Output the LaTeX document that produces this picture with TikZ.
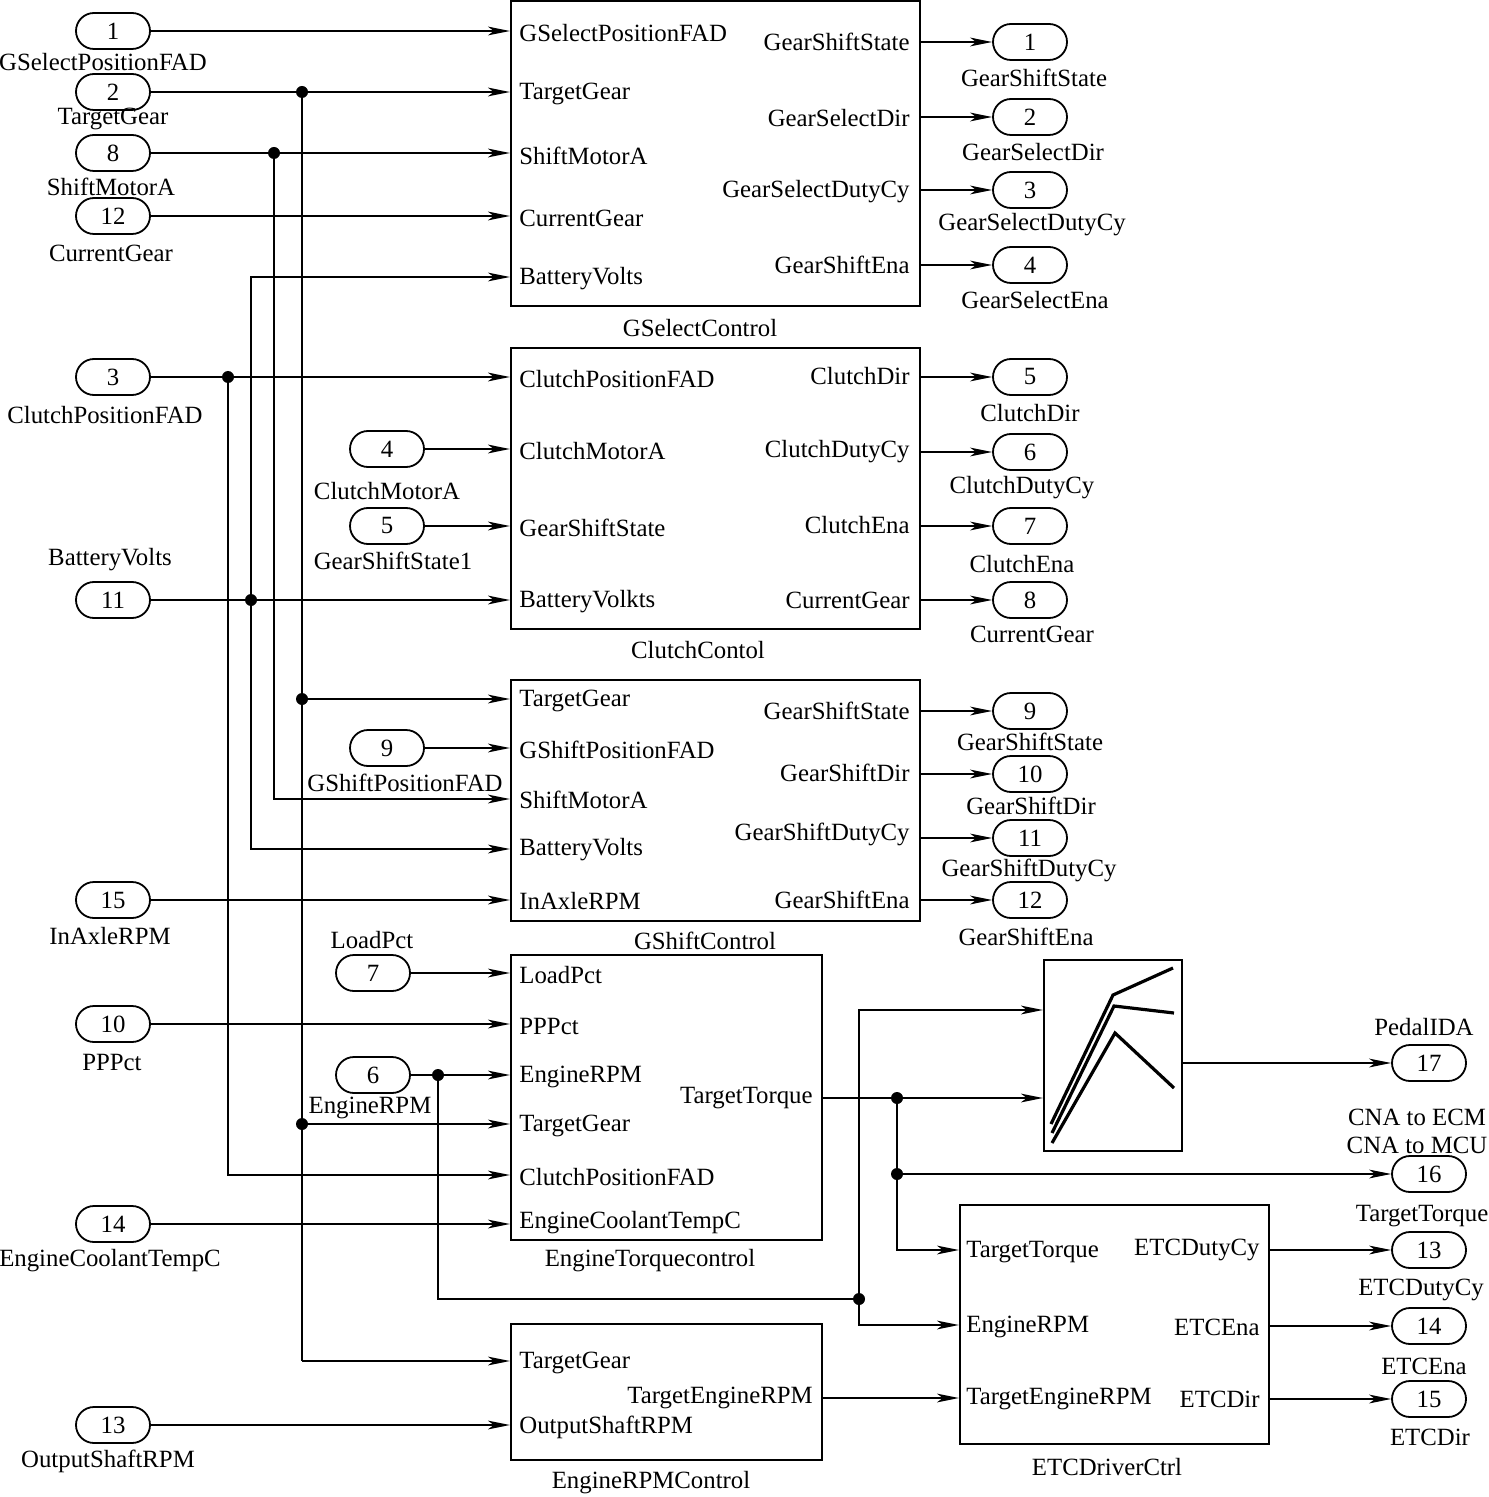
\documentclass[tikz,border=0pt]{standalone}
\usepackage{fontspec}
\setmainfont{Liberation Serif}
\usepackage{tikz}
\usetikzlibrary{arrows.meta}
\tikzset{port/.style={draw, line width=0.9pt, rounded corners=9pt,
  minimum width=37pt, minimum height=18pt, inner sep=0pt},
  blk/.style={draw, line width=1.1pt, inner sep=0pt},
  dot/.style={circle, fill, minimum size=6pt, inner sep=0pt},
  pin/.style={anchor=west}, pout/.style={anchor=east}}

\begin{document}
\begin{tikzpicture}[x=0.5pt, y=-0.5pt,
  every node/.style={font=\fontsize{12.4}{14}\selectfont, inner sep=1pt},
  >={Stealth[length=11pt, width=4.4pt, inset=3pt]},
  wire/.style={->, line width=0.9pt}, fine/.style={->, line width=0.55pt}]
  \useasboundingbox (0,0) rectangle (1488,1497);
  % blocks
  \node[blk, minimum width=204.5pt, minimum height=152.5pt] (gsel) at (715.5,153.5) {};
  \node[blk, minimum width=204.5pt, minimum height=140.5pt] (clu)  at (715.5,488.5) {};
  \node[blk, minimum width=204.5pt, minimum height=120.5pt] (gsh)  at (715.5,800.5) {};
  \node[blk, minimum width=155.5pt, minimum height=142.5pt] (etq)  at (666.5,1097.5) {};
  \node[blk, minimum width=155.5pt, minimum height=68pt]    (erpm) at (666.5,1392) {};
  \node[blk, minimum width=69pt,    minimum height=95.5pt]  (lut)  at (1113,1055.5) {};
  \node[blk, minimum width=154.5pt, minimum height=119.5pt] (etc)  at (1114.5,1324.5) {};
  \node (gselT) at (700,328)  {GSelectControl};
  \node (cluT)  at (698,650)  {ClutchContol};
  \node (gshT)  at (705,941)  {GShiftControl};
  \node (etqT)  at (650,1261) {EngineTorquecontrol};
  \node (erpmT) at (651,1483) {EngineRPMControl};
  \node (etcT)  at (1107,1467) {ETCDriverCtrl};
  \draw[line width=1.6pt] (1051,1124) -- (1113,995) -- (1173,968);
  \draw[line width=1.6pt] (1052,1133) -- (1114,1006) -- (1174,1013);
  \draw[line width=1.6pt] (1052,1143) -- (1115,1033) -- (1174,1088);
  % block ports
  \node[pin] (gselA) at (517,33)  {GSelectPositionFAD};
  \node[pin] (gselB) at (517,94)  {TargetGear};
  \node[pin] (gselC) at (517,156) {ShiftMotorA};
  \node[pin] (gselD) at (517,218) {CurrentGear};
  \node[pin] (gselE) at (517,279) {BatteryVolts};
  \node[pout] (gselP) at (912,42)  {GearShiftState};
  \node[pout] (gselQ) at (912,118) {GearSelectDir};
  \node[pout] (gselR) at (912,192) {GearSelectDutyCy};
  \node[pout] (gselS) at (912,265) {GearShiftEna};
  \node[pin] (cluA) at (517,379) {ClutchPositionFAD};
  \node[pin] (cluB) at (517,451) {ClutchMotorA};
  \node[pin] (cluC) at (517,528) {GearShiftState};
  \node[pin] (cluD) at (517,602) {BatteryVolkts};
  \node[pout] (cluP) at (912,376) {ClutchDir};
  \node[pout] (cluQ) at (912,452) {ClutchDutyCy};
  \node[pout] (cluR) at (912,525) {ClutchEna};
  \node[pout] (cluS) at (912,600) {CurrentGear};
  \node[pin] (gshA) at (517,701) {TargetGear};
  \node[pin] (gshB) at (517,750) {GShiftPositionFAD};
  \node[pin] (gshC) at (517,800) {ShiftMotorA};
  \node[pin] (gshD) at (517,850) {BatteryVolts};
  \node[pin] (gshE) at (517,901) {InAxleRPM};
  \node[pout] (gshP) at (912,711) {GearShiftState};
  \node[pout] (gshQ) at (912,773) {GearShiftDir};
  \node[pout] (gshR) at (912,834) {GearShiftDutyCy};
  \node[pout] (gshS) at (912,900) {GearShiftEna};
  \node[pin] (etqA) at (517,975)  {LoadPct};
  \node[pin] (etqB) at (517,1026) {PPPct};
  \node[pin] (etqC) at (517,1077) {EngineRPM};
  \node[pin] (etqD) at (517,1126) {TargetGear};
  \node[pin] (etqE) at (517,1177) {ClutchPositionFAD};
  \node[pin] (etqF) at (517,1223) {EngineCoolantTempC};
  \node[pout] (etqO) at (815,1098) {TargetTorque};
  \node[pin] (erpmA) at (517,1363) {TargetGear};
  \node[pin] (erpmB) at (517,1427) {OutputShaftRPM};
  \node[pout] (erpmO) at (815,1398) {TargetEngineRPM};
  \node[pin] (etcA) at (964,1252) {TargetTorque};
  \node[pin] (etcB) at (964,1327) {EngineRPM};
  \node[pin] (etcC) at (964,1399) {TargetEngineRPM};
  \node[pout] (etcP) at (1262,1250) {ETCDutyCy};
  \node[pout] (etcQ) at (1262,1327) {ETCEna};
  \node[pout] (etcR) at (1262,1399) {ETCDir};
  % inports
  \node[port] (in1)  at (113,31)   {1};
  \node[port] (in2)  at (113,92)   {2};
  \node[port] (in8)  at (113,153)  {8};
  \node[port] (in12) at (113,216)  {12};
  \node[port] (in3)  at (113,377)  {3};
  \node[port] (in4)  at (387,449)  {4};
  \node[port] (in5)  at (387,526)  {5};
  \node[port] (in11) at (113,600)  {11};
  \node[port] (in9)  at (387,748)  {9};
  \node[port] (in15) at (113,900)  {15};
  \node[port] (in7)  at (373,973)  {7};
  \node[port] (in10) at (113,1024) {10};
  \node[port] (in6)  at (373,1075) {6};
  \node[port] (in14) at (113,1224) {14};
  \node[port] (in13) at (113,1425) {13};
  \node (in1t)  at (103,62)   {GSelectPositionFAD};
  \node (in2t)  at (113,119)  {TargetGear};
  \node (in8t)  at (111,187)  {ShiftMotorA};
  \node (in12t) at (111,253)  {CurrentGear};
  \node (in3t)  at (105,415)  {ClutchPositionFAD};
  \node (in4t)  at (387,491)  {ClutchMotorA};
  \node (in5t)  at (393,561)  {GearShiftState1};
  \node (in11t) at (110,560)  {BatteryVolts};
  \node (in9t)  at (405,783)  {GShiftPositionFAD};
  \node (in15t) at (110,936)  {InAxleRPM};
  \node (in7t)  at (372,940)  {LoadPct};
  \node (in10t) at (112,1062) {PPPct};
  \node (in6t)  at (370,1108) {EngineRPM};
  \node (in14t) at (110,1261) {EngineCoolantTempC};
  \node (in13t) at (108,1461) {OutputShaftRPM};
  % outports
  \node[port] (out1)  at (1030,42)  {1};
  \node[port] (out2)  at (1030,117) {2};
  \node[port] (out3)  at (1030,190) {3};
  \node[port] (out4)  at (1030,265) {4};
  \node[port] (out5)  at (1030,377) {5};
  \node[port] (out6)  at (1030,452) {6};
  \node[port] (out7)  at (1030,526) {7};
  \node[port] (out8)  at (1030,600) {8};
  \node[port] (out9)  at (1030,711) {9};
  \node[port] (out10) at (1030,774) {10};
  \node[port] (out11) at (1030,838) {11};
  \node[port] (out12) at (1030,900) {12};
  \node[port] (out17) at (1429,1063) {17};
  \node[port] (out16) at (1429,1174) {16};
  \node[port] (out13) at (1429,1250) {13};
  \node[port] (out14) at (1429,1326) {14};
  \node[port] (out15) at (1429,1399) {15};
  \node (out1t)  at (1034,78)  {GearShiftState};
  \node (out2t)  at (1033,152) {GearSelectDir};
  \node (out3t)  at (1032,225) {GearSelectDutyCy};
  \node (out4t)  at (1035,300) {GearSelectEna};
  \node (out5t)  at (1030,413) {ClutchDir};
  \node (out6t)  at (1022,488) {ClutchDutyCy};
  \node (out7t)  at (1022,564) {ClutchEna};
  \node (out8t)  at (1032,634) {CurrentGear};
  \node (out9t)  at (1030,742) {GearShiftState};
  \node (out10t) at (1031,806) {GearShiftDir};
  \node (out11t) at (1029,870) {GearShiftDutyCy};
  \node (out12t) at (1026,937) {GearShiftEna};
  \node (out17t) at (1424,1027) {PedalIDA};
  \node (out16t) at (1417,1117) {CNA to ECM};
  \node (out16u) at (1417,1145) {CNA to MCU};
  \node (out13t) at (1422,1216) {TargetTorque};
  \node (out13u) at (1421,1290) {ETCDutyCy};
  \node (out14t) at (1424,1366) {ETCEna};
  \node (out15t) at (1430,1437) {ETCDir};
  % junctions
  \node[dot] (j2)  at (302,92)   {};
  \node[dot] (j2b) at (302,699)  {};
  \node[dot] (j2c) at (302,1124) {};
  \node[dot] (j8)  at (274,153)  {};
  \node[dot] (j3)  at (228,377)  {};
  \node[dot] (j11) at (251,600)  {};
  \node[dot] (j6)  at (438,1075) {};
  \node[dot] (j6b) at (859,1299) {};
  \node[dot] (jt)  at (897,1098) {};
  \node[dot] (jtb) at (897,1174) {};
  \coordinate (tgDn) at (302,1361);
  \coordinate (smDn) at (274,799);
  \coordinate (cpDn) at (228,1175);
  \coordinate (bvUp) at (251,277);
  \coordinate (bvDn) at (251,849);
  \coordinate (rpmLo) at (438,1299);
  \coordinate (rpmUp) at (859,1010);
  \coordinate (rpmEtc) at (859,1325);
  \coordinate (tqEtc) at (897,1250);
  % wires
  \draw[fine] (in1) -- (in1 -| gsel.west);
  \draw[wire] (in2) -- (in2 -| gsel.west);
  \draw[wire] (in8) -- (in8 -| gsel.west);
  \draw[wire] (in12) -- (in12 -| gsel.west);
  \draw[wire] (in3) -- (in3 -| clu.west);
  \draw[wire] (in4) -- (in4 -| clu.west);
  \draw[wire] (in5) -- (in5 -| clu.west);
  \draw[wire] (in11) -- (in11 -| clu.west);
  \draw[wire] (in9) -- (in9 -| gsh.west);
  \draw[wire] (in15) -- (in15 -| gsh.west);
  \draw[wire] (in7) -- (in7 -| etq.west);
  \draw[wire] (in10) -- (in10 -| etq.west);
  \draw[wire] (in6) -- (in6 -| etq.west);
  \draw[wire] (in14) -- (in14 -| etq.west);
  \draw[wire] (in13) -- (in13 -| erpm.west);
  \draw[fine, -] (j2.center) -- (tgDn);
  \draw[wire] (j2b.center) -- (j2b -| gsh.west);
  \draw[fine] (j2c.center) -- (j2c -| etq.west);
  \draw[wire] (tgDn) -- (tgDn -| erpm.west);
  \draw[wire] (j8.center) -- (smDn) -- (smDn -| gsh.west);
  \draw[wire] (j3.center) -- (cpDn) -- (cpDn -| etq.west);
  \draw[fine] (j11.center) -- (bvUp) -- (bvUp -| gsel.west);
  \draw[fine] (j11.center) -- (bvDn) -- (bvDn -| gsh.west);
  \draw[wire, -] (j6.center) -- (rpmLo) -- (j6b.center);
  \draw[wire] (j6b.center) -- (rpmUp) -- (rpmUp -| lut.west);
  \draw[wire] (j6b.center) -- (rpmEtc) -- (rpmEtc -| etc.west);
  \draw[wire] (etqO -| etq.east) -- (etqO -| lut.west);
  \draw[wire, -] (jt.center) -- (jtb.center);
  \draw[fine] (jtb.center) -- (tqEtc) -- (tqEtc -| etc.west);
  \draw[fine] (jtb.center) -- (out16);
  \draw[wire] (erpmO -| erpm.east) -- (erpmO -| etc.west);
  \draw[wire] (lut.east |- out17) -- (out17);
  \draw[wire] (gsel.east |- out1) -- (out1);
  \draw[wire] (gsel.east |- out2) -- (out2);
  \draw[wire] (gsel.east |- out3) -- (out3);
  \draw[wire] (gsel.east |- out4) -- (out4);
  \draw[wire] (clu.east |- out5) -- (out5);
  \draw[wire] (clu.east |- out6) -- (out6);
  \draw[wire] (clu.east |- out7) -- (out7);
  \draw[wire] (clu.east |- out8) -- (out8);
  \draw[wire] (gsh.east |- out9) -- (out9);
  \draw[wire] (gsh.east |- out10) -- (out10);
  \draw[fine] (gsh.east |- out11) -- (out11);
  \draw[wire] (gsh.east |- out12) -- (out12);
  \draw[fine] (etc.east |- out13) -- (out13);
  \draw[wire] (etc.east |- out14) -- (out14);
  \draw[wire] (etc.east |- out15) -- (out15);
\end{tikzpicture}
\end{document}
